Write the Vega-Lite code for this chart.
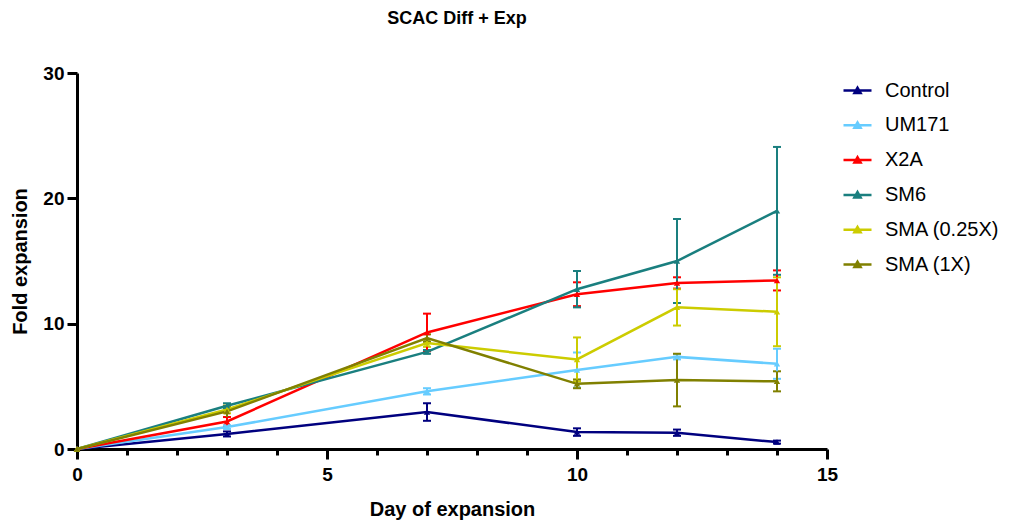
{
  "$schema": "https://vega.github.io/schema/vega-lite/v6.json",
  "width": 750,
  "height": 376,
  "autosize": {"type": "none"},
  "padding": {"left": 77, "top": 73, "right": 183, "bottom": 76},
  "background": "white",
  "title": {"text": "SCAC Diff + Exp", "font": "Liberation Sans", "fontSize": 18, "fontWeight": "bold", "color": "black", "anchor": "middle", "offset": 36, "dx": 5},
  "config": {"view": {"stroke": null}, "font": "Liberation Sans"},
  "data": {"values": [
    {"series": "Control", "day": 0, "mean": 0, "err": 0},
    {"series": "Control", "day": 3, "mean": 1.2, "err": 0.2},
    {"series": "Control", "day": 7, "mean": 2.95, "err": 0.7},
    {"series": "Control", "day": 10, "mean": 1.35, "err": 0.3},
    {"series": "Control", "day": 12, "mean": 1.3, "err": 0.25},
    {"series": "Control", "day": 14, "mean": 0.55, "err": 0.12},
    {"series": "UM171", "day": 0, "mean": 0, "err": 0},
    {"series": "UM171", "day": 3, "mean": 1.75, "err": 0.15},
    {"series": "UM171", "day": 7, "mean": 4.6, "err": 0.25},
    {"series": "UM171", "day": 10, "mean": 6.3, "err": 1.4},
    {"series": "UM171", "day": 12, "mean": 7.35, "err": 0.2},
    {"series": "UM171", "day": 14, "mean": 6.8, "err": 1.2},
    {"series": "X2A", "day": 0, "mean": 0, "err": 0},
    {"series": "X2A", "day": 3, "mean": 2.2, "err": 0.35},
    {"series": "X2A", "day": 7, "mean": 9.3, "err": 1.5},
    {"series": "X2A", "day": 10, "mean": 12.35, "err": 0.95},
    {"series": "X2A", "day": 12, "mean": 13.25, "err": 0.45},
    {"series": "X2A", "day": 14, "mean": 13.45, "err": 0.8},
    {"series": "SM6", "day": 0, "mean": 0, "err": 0},
    {"series": "SM6", "day": 3, "mean": 3.45, "err": 0.2},
    {"series": "SM6", "day": 7, "mean": 7.75, "err": 0.15},
    {"series": "SM6", "day": 10, "mean": 12.75, "err": 1.45},
    {"series": "SM6", "day": 12, "mean": 15.0, "err": 3.35},
    {"series": "SM6", "day": 14, "mean": 19.0, "err": 5.1},
    {"series": "SMA (0.25X)", "day": 0, "mean": 0, "err": 0},
    {"series": "SMA (0.25X)", "day": 3, "mean": 3.15, "err": 0.3},
    {"series": "SMA (0.25X)", "day": 7, "mean": 8.45, "err": 0.3},
    {"series": "SMA (0.25X)", "day": 10, "mean": 7.15, "err": 1.75},
    {"series": "SMA (0.25X)", "day": 12, "mean": 11.3, "err": 1.45},
    {"series": "SMA (0.25X)", "day": 14, "mean": 10.95, "err": 2.75},
    {"series": "SMA (1X)", "day": 0, "mean": 0, "err": 0},
    {"series": "SMA (1X)", "day": 3, "mean": 3.0, "err": 0.45},
    {"series": "SMA (1X)", "day": 7, "mean": 8.85, "err": 0.3},
    {"series": "SMA (1X)", "day": 10, "mean": 5.2, "err": 0.35},
    {"series": "SMA (1X)", "day": 12, "mean": 5.5, "err": 2.1},
    {"series": "SMA (1X)", "day": 14, "mean": 5.4, "err": 0.8}
  ]},
  "encoding": {
    "x": {"field": "day", "type": "quantitative",
      "scale": {"domain": [0, 15], "nice": false, "zero": false},
      "axis": {"title": "Day of expansion", "titleFontSize": 20, "titleFontWeight": "bold", "titleColor": "black", "titlePadding": 15,
        "values": [0,1,2,3,4,5,6,7,8,9,10,11,12,13,14,15],
        "labelExpr": "datum.value % 5 === 0 ? datum.label : ''",
        "labelFontSize": 19, "labelFontWeight": "bold", "labelColor": "black", "labelPadding": 6, "labelFlush": false,
        "tickSize": {"condition": {"test": "datum.value % 5 === 0", "value": 10}, "value": 6},
        "tickWidth": 3, "tickColor": "black", "domainWidth": 3, "domainColor": "black", "grid": false}},
    "y": {"field": "mean", "type": "quantitative",
      "scale": {"domain": [0, 30], "nice": false},
      "axis": {"title": "Fold expansion", "titleFontSize": 20, "titleFontWeight": "bold", "titleColor": "black", "titlePadding": 12,
        "values": [0, 10, 20, 30], "labelFontSize": 19, "labelFontWeight": "bold", "labelColor": "black", "labelPadding": 3, "labelFlush": false,
        "tickSize": 10, "tickWidth": 3, "tickColor": "black", "domainWidth": 3, "domainColor": "black", "grid": false}},
    "color": {"field": "series", "type": "nominal",
      "scale": {"domain": ["Control", "UM171", "X2A", "SM6", "SMA (0.25X)", "SMA (1X)"],
        "range": ["#00007F", "#66CCFF", "#FF0000", "#1A7F7F", "#CCCC00", "#808000"]},
      "legend": {"title": null, "orient": "none", "legendX": 765, "legendY": 2, "padding": 0,
        "labelFontSize": 20, "labelColor": "black", "labelFont": "Liberation Sans", "labelOffset": 12,
        "symbolType": "M-1,0H1M-0.22,0.18L0,-0.2L0.22,0.18Z", "symbolSize": 784, "symbolStrokeWidth": 2.5, "symbolOpacity": 1,
        "rowPadding": 8.8}}
  },
  "layer": [
    {
      "transform": [{"filter": "datum.err > 0"}],
      "mark": {"type": "errorbar", "ticks": {"size": 8, "thickness": 2}, "thickness": 2, "opacity": 1},
      "encoding": {"yError": {"field": "err"}}
    },
    {
      "mark": {"type": "line", "strokeWidth": 2.5, "point": {"shape": "triangle-up", "size": 40, "filled": true, "opacity": 1}}
    }
  ]
}
